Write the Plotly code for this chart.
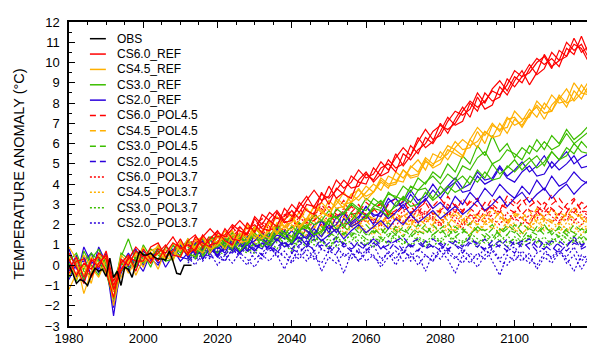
import plotly.graph_objects as go

# ---------------- data ----------------
OBS_YEARS = list(range(1980, 2014))
OBS = [0.0, -0.4, -0.9, -0.7, -0.8, -1.0, -0.5, -0.15, -0.3, -0.2, -0.55, 0.35, -0.6, -0.3,
       -1.0, -0.1, -0.2, -0.6, 0.1, 0.7, 0.5, 0.5, 0.6, 0.4, 0.3, 0.3, 0.25, 0.7, 0.2, -0.4,
       -0.45, 0.0, 0.0, 0.0]

REF_YEARS = list(range(1980, 2123, 2))   # reference runs, every second year
POL_YEARS = list(range(2012, 2123, 2))   # policy runs, every second year

# ---- CS6.0_REF
R60_A = [0.3,-0.5,0.1,-0.2,0.6,0.3,-1.2,-0.3,0.4,0.2, 0.2,0.9,1.1,0.4,0.7,1.3,0.6,0.8,1.5,1.0,
         1.1,1.8,1.3,1.2,2.1,1.6,2.5,2.2,1.9,2.8, 2.4,2.9,3.4,2.8,3.1,3.9,3.3,3.6,4.4,4.1,
         4.0,4.8,4.4,4.6,5.5,4.9,5.4,6.3,5.8,6.1, 7.0,6.5,7.2,7.8,7.3,8.3,7.7,7.9,8.8,8.4,
         9.1,9.6,8.9,9.5,10.4,9.8,10.1,11.0,10.6,10.9, 10.2,10.6]
R60_B = [-0.2,0.4,-0.6,0.3,-0.1,0.7,-0.8,0.1,0.5,-0.3, 0.8,0.3,0.6,1.0,0.5,0.4,1.2,1.5,0.9,1.3,
         1.7,1.2,1.0,1.9,1.5,2.3,1.8,1.7,2.6,2.1, 2.2,3.1,2.7,2.5,3.6,3.0,3.8,3.5,3.3,4.2,
         4.6,4.1,4.5,5.2,4.8,5.0,5.9,5.5,6.3,6.0, 6.6,7.3,6.9,7.1,8.0,7.6,8.5,8.1,8.3,9.2,
         8.8,9.3,9.9,9.4,9.7,10.5,10.1,10.3,11.2,10.5, 10.8,10.1]
R60_C = [0.6,-0.1,-0.9,0.2,0.4,-0.3,-1.6,0.3,0.0,0.7, 0.4,0.6,0.2,0.9,1.4,0.8,1.0,0.7,1.4,1.8,
         1.4,1.5,2.0,1.7,1.5,2.4,2.0,2.6,2.3,2.4, 3.0,2.6,3.2,3.7,3.2,3.4,4.2,3.8,4.1,4.7,
         4.3,4.5,5.1,4.7,5.3,5.8,5.4,6.1,6.7,6.2, 6.4,7.1,7.6,7.4,7.7,8.5,8.0,8.7,9.1,8.6,
         9.3,9.0,9.7,10.2,9.9,10.2,9.8,10.7,10.4,11.3, 10.4,9.9]
R60_D = [-0.4,0.2,0.3,-0.6,0.1,0.5,-1.0,-0.2,0.3,0.9, 0.5,0.1,0.8,0.6,1.1,0.9,0.5,1.4,1.1,0.9,
         1.6,1.4,1.8,2.2,1.8,2.0,1.6,2.3,2.7,2.2, 2.7,2.3,3.0,2.9,3.5,3.3,3.7,4.2,3.8,3.9,
         4.5,4.2,4.8,5.0,4.6,5.5,5.2,5.7,6.0,6.6, 6.9,6.7,7.0,7.6,8.1,7.8,8.1,8.6,8.4,8.9,
         9.6,9.3,9.5,10.0,10.3,9.7,10.6,10.3,10.9,10.7, 10.0,10.4]

# ---- CS4.5_REF
R45_A = [-0.5,0.2,-1.4,-0.3,0.1,0.4,-1.0,-0.6,0.2,0.5, -0.1,0.7,0.9,0.3,0.4,1.1,0.6,1.2,1.4,0.8,
         1.0,1.5,1.7,1.1,1.2,1.9,1.6,2.1,1.5,2.3, 2.5,1.8,2.2,2.9,2.7,2.4,3.3,3.0,3.1,3.8,
         3.2,3.6,4.2,3.9,4.0,4.7,4.3,4.4,5.2,4.8, 5.0,5.7,5.5,5.3,6.2,5.8,6.6,6.3,6.4,7.2,
         7.3,6.8,7.4,7.9,7.5,7.6,8.4,8.0,8.2,8.9, 8.4,8.8]
R45_B = [0.4,-0.7,0.0,-0.9,0.6,-0.2,-1.6,0.3,-0.4,0.2, 0.9,0.1,0.6,0.3,1.1,0.7,1.3,0.7,1.1,0.9,
         1.5,1.2,0.9,1.6,1.3,1.8,1.5,1.3,2.1,1.9, 2.4,1.9,2.3,2.9,2.6,2.4,3.2,2.8,3.5,3.7,
         3.4,3.6,4.1,3.8,4.6,4.3,4.8,5.2,4.7,5.5, 5.3,5.9,5.7,5.4,6.2,6.8,6.4,7.0,6.6,7.3,
         6.9,7.1,7.7,7.3,8.0,7.6,8.2,8.7,8.1,8.5, 9.1,8.6]
R45_C = [-1.2,-0.4,0.5,-0.1,-0.6,0.3,-2.0,-0.2,0.4,-0.5, 0.3,0.5,-0.2,0.8,0.2,1.2,0.5,0.9,1.4,0.6,
         1.2,0.8,1.5,1.2,1.9,1.3,1.7,2.2,1.6,1.9, 2.1,2.6,2.2,2.5,3.1,2.7,3.0,3.6,3.1,3.4,
         3.9,3.6,4.3,4.0,4.1,4.7,4.4,4.5,5.1,4.9, 5.6,5.2,5.8,6.2,5.9,6.1,6.6,6.3,7.0,6.5,
         7.2,6.9,7.5,7.8,7.2,7.9,8.3,7.8,8.6,8.2, 8.9,9.3]
R45_D = [0.9,0.3,-0.5,0.4,0.0,-0.4,-1.3,0.5,0.1,0.6, 0.2,0.4,1.0,0.5,0.7,0.4,1.1,0.9,0.6,1.3,
         1.1,1.7,1.2,1.4,2.0,1.5,1.3,1.8,2.4,1.9, 1.7,2.2,2.8,2.3,2.5,3.2,2.8,2.9,3.5,3.2,
         3.6,4.0,3.7,4.4,4.2,4.1,4.9,4.6,5.3,5.0, 5.2,5.5,6.1,5.7,5.8,6.6,6.0,6.9,6.7,6.8,
         7.6,7.2,7.3,8.1,7.7,8.4,8.0,8.1,9.0,8.5, 8.4,9.0]

# ---- CS3.0_REF
R30_A = [0.1,-0.8,0.7,0.0,-0.5,0.5,-1.1,0.4,1.3,0.2, 0.6,-0.1,0.9,0.4,0.7,1.1,0.5,1.0,1.3,0.7,
         1.2,0.9,1.4,1.5,1.0,1.6,1.2,1.0,1.7,1.4, 1.2,1.8,2.0,1.5,1.7,2.3,2.4,1.9,2.2,2.7,
         2.4,2.9,3.2,2.6,2.9,3.4,3.1,3.7,3.8,3.3, 3.9,3.5,4.1,4.4,4.0,4.7,4.3,5.0,4.5,4.8,
         5.2,4.7,5.1,5.4,4.9,5.6,5.2,5.8,5.5,6.1, 5.7,6.3]
R30_B = [-0.6,0.3,-0.2,0.6,0.2,-0.4,-1.7,-0.3,0.0,0.7, 0.3,0.8,0.5,0.2,1.0,0.6,1.3,0.8,0.6,1.2,
         1.5,1.1,0.8,1.5,1.3,1.9,1.4,1.2,1.9,1.6, 1.4,2.1,1.8,2.5,2.2,2.0,2.8,2.5,3.0,2.7,
         3.3,3.0,2.8,3.6,3.3,3.9,3.6,4.3,4.0,4.6, 4.3,5.0,4.6,5.4,5.0,5.9,5.4,6.4,5.6,6.0,
         5.3,5.8,5.5,6.2,5.7,6.4,6.0,6.7,6.2,6.5, 6.9,6.4]
R30_C = [0.5,0.0,-0.7,0.3,0.8,-0.1,-0.6,0.1,-0.2,0.4, 0.1,0.5,0.7,0.2,0.3,0.9,0.6,0.4,1.0,0.8,
         0.9,1.3,1.2,0.7,1.1,1.5,0.9,1.2,1.6,1.4, 1.1,1.7,1.9,1.5,1.6,2.2,1.8,2.0,2.6,2.2,
         2.3,2.8,2.7,2.4,3.1,3.3,2.9,3.0,3.6,3.2, 3.5,3.9,3.6,3.8,4.4,4.1,4.6,4.2,4.3,4.9,
         4.6,5.0,5.3,4.8,5.1,5.6,5.2,5.4,6.0,5.6, 5.5,5.9]
R30_D = [0.2,0.6,-0.3,-0.5,0.4,0.1,-1.3,0.6,0.3,-0.1, 1.0,0.4,0.3,0.9,0.6,0.5,1.2,0.9,0.7,1.4,
         1.0,1.1,1.6,1.3,1.2,1.8,1.5,1.4,2.0,1.5, 1.9,1.6,2.3,2.0,2.2,2.7,2.3,2.6,3.1,2.8,
         2.7,3.3,3.0,3.5,3.4,3.2,3.9,3.7,4.1,4.4, 4.0,4.5,4.2,4.9,4.7,5.3,5.6,5.0,5.2,5.7,
         5.5,5.2,5.9,5.6,6.1,5.7,5.9,6.5,6.0,6.3, 6.6,6.2]

# ---- CS2.0_REF
R20_A = [0.8,-0.2,0.4,-0.5,0.9,0.1,-2.5,0.0,0.6,-0.1, 0.5,0.2,0.9,0.4,0.6,1.0,0.4,0.9,0.6,1.3,
         0.8,1.1,0.7,1.4,1.0,1.2,1.6,1.1,1.5,1.3, 1.7,1.3,1.4,2.0,2.2,1.6,2.4,2.6,2.0,2.3,
         2.9,2.5,2.4,3.1,3.3,2.8,3.5,3.0,3.2,3.7, 3.3,3.8,4.1,3.6,3.7,4.4,4.0,4.2,4.8,4.3,
         4.1,4.6,4.9,4.4,4.5,5.1,4.7,5.0,5.4,4.8, 4.9,5.3]
R20_B = [-0.3,0.5,-0.8,0.2,-0.2,0.6,-1.3,0.3,-0.1,0.2, -0.3,0.6,0.1,0.4,0.8,0.2,0.6,1.1,0.3,0.8,
         0.5,0.9,1.2,0.6,1.0,0.7,1.1,0.8,1.3,0.9, 1.1,1.4,1.0,1.6,1.2,1.5,1.8,1.3,1.7,2.0,
         1.6,1.9,2.2,1.8,2.3,2.0,2.5,2.1,2.4,2.7, 2.3,2.6,2.9,2.5,2.8,3.2,2.7,3.0,3.4,2.9,
         3.3,3.6,3.1,3.5,3.8,3.3,3.7,4.0,3.5,3.9, 4.2,3.8]
R20_C = [0.2,-0.6,0.9,0.1,0.3,-0.2,-1.9,-0.4,0.3,0.8, 0.0,0.4,0.7,-0.1,0.5,0.9,1.2,0.5,0.8,1.0,
         0.4,1.3,0.9,0.6,1.4,1.0,0.8,1.5,1.2,1.7, 1.0,1.6,1.3,1.8,1.4,2.0,1.6,2.3,1.9,2.1,
         2.5,2.0,2.7,2.3,2.6,3.0,2.5,2.9,3.3,2.8, 3.1,2.7,3.4,3.0,3.6,3.2,3.8,3.4,4.0,3.6,
         3.3,3.9,3.5,4.2,3.7,4.4,3.9,4.1,4.6,4.2, 4.0,4.5]
R20_D = [-0.7,0.1,0.2,0.6,-0.4,0.4,-2.1,0.2,-0.3,0.4, 0.7,0.3,0.0,0.6,1.0,0.4,0.3,0.9,1.2,0.6,
         0.9,0.6,1.3,1.1,0.7,1.5,1.3,1.0,1.8,1.4, 1.2,1.9,1.7,1.4,2.2,1.8,2.0,2.6,2.1,2.4,
         2.9,2.4,2.6,3.3,2.9,3.1,3.7,3.2,3.4,4.0, 3.5,3.9,4.3,3.8,4.0,4.6,4.2,4.3,4.9,4.4,
         4.7,5.1,4.6,4.9,5.4,4.8,5.2,5.6,5.0,5.3, 5.5,5.0]

# ---- POL4.5 runs
P45_60_A = [1.2,0.6,0.9,1.5,1.1,1.3,1.9,1.4,1.6,2.2, 1.8,2.0,2.6,2.1,2.3,2.9,2.2,2.5,2.8,2.4,
            2.7,3.2,2.5,2.6,3.1,2.8,2.4,3.0,3.3,2.7, 2.9,2.5,3.2,2.8,2.6,3.4,2.9,2.7,3.1,3.3,
            2.6,3.0,2.7,3.4,3.1,2.5,2.9,3.2,2.8,3.5, 2.9,2.6,3.2,2.7,3.0,2.8]
P45_60_B = [0.7,1.1,1.3,0.8,1.5,1.2,1.4,1.8,1.3,1.9, 2.3,1.7,2.0,2.5,2.2,2.6,2.1,2.4,3.0,2.5,
            2.3,2.8,2.6,3.0,2.4,2.7,3.1,2.6,2.5,2.9, 3.2,2.7,2.5,2.9,3.3,2.8,3.0,2.6,3.2,2.9,
            2.7,3.3,3.0,2.8,2.6,3.1,3.4,2.9,2.6,3.0, 3.3,2.8,2.6,3.1,2.9,3.2]
P45_60_C = [1.0,1.3,0.8,1.2,1.7,1.1,1.5,1.3,2.0,1.7, 1.9,2.2,1.8,2.4,2.7,2.0,2.3,2.2,2.6,2.9,
            2.5,2.4,2.9,2.6,2.3,2.8,3.0,2.5,2.7,3.2, 2.6,2.8,3.1,2.5,2.7,3.0,2.6,3.3,2.8,2.5,
            3.1,2.8,2.6,3.2,2.9,3.3,2.7,2.6,3.1,2.8, 2.5,3.0,3.3,2.7,2.6,3.1]
P45_45_A = [0.6,1.0,0.7,1.3,0.9,1.2,0.9,1.5,1.1,1.7, 1.3,1.1,1.8,1.5,2.0,1.6,1.9,2.2,1.7,2.3,
            1.9,2.1,2.5,2.0,2.2,1.8,2.4,2.1,2.6,2.2, 1.9,2.5,2.3,2.0,2.6,2.2,2.7,2.3,2.0,2.5,
            2.1,2.8,2.4,2.1,2.6,2.3,2.0,2.5,2.2,2.8, 2.4,2.1,2.6,2.3,2.0,2.5]
P45_45_B = [1.1,0.7,1.2,0.8,1.0,1.4,1.1,1.3,1.0,1.6, 1.4,1.8,1.3,1.6,1.9,2.1,1.7,1.9,2.4,2.0,
            1.7,2.3,2.0,2.6,2.1,2.4,2.0,2.7,2.2,2.5, 2.1,2.3,2.0,2.6,2.3,2.0,2.5,2.2,2.7,2.3,
            2.5,2.1,2.7,2.2,2.4,2.6,2.2,2.8,2.3,2.1, 2.6,2.4,2.9,2.3,2.5,2.2]
P45_45_C = [0.9,1.3,1.0,0.8,1.4,1.2,1.7,1.3,1.5,1.9, 1.5,1.7,2.0,1.6,2.3,1.9,2.1,1.8,2.4,2.2,
            2.0,2.4,2.1,1.8,2.5,2.3,2.0,2.6,2.2,2.4, 2.7,2.1,2.4,2.2,2.8,2.4,2.1,2.5,2.3,2.0,
            2.4,2.2,2.6,2.0,2.5,2.3,2.7,2.1,2.4,2.2, 2.0,2.6,2.3,2.5,2.1,2.4]
P45_30_A = [0.7,0.3,0.9,0.5,1.1,0.8,1.2,0.9,1.4,1.0, 1.3,1.6,1.1,1.5,1.2,1.7,1.3,1.6,1.9,1.4,
            1.8,1.5,2.0,1.6,1.3,1.8,1.5,2.1,1.7,1.4, 1.9,1.6,2.0,1.5,1.8,1.4,1.9,1.6,2.1,1.7,
            1.4,1.8,1.5,2.0,1.7,1.3,1.8,1.6,2.0,1.5, 1.9,1.7,1.4,1.8,1.6,2.0]
P45_30_B = [0.3,0.8,0.5,0.9,0.6,1.0,0.7,1.2,0.8,1.1, 1.4,0.9,1.3,1.6,1.2,1.4,1.7,1.2,1.5,1.8,
            1.3,1.6,1.4,1.9,1.5,1.7,1.3,1.8,1.5,1.9, 1.4,1.7,1.5,2.0,1.6,1.8,1.4,1.7,1.5,1.9,
            1.6,1.3,1.8,1.5,2.0,1.6,1.4,1.9,1.5,1.7, 1.4,1.8,1.6,1.3,1.9,1.5]
P45_30_C = [0.9,0.6,0.8,1.2,0.9,1.1,1.4,1.0,1.2,1.6, 1.2,1.5,1.3,1.8,1.4,1.2,1.7,1.5,1.9,1.6,
            1.4,1.9,1.6,1.5,2.0,1.6,1.8,1.4,1.9,1.7, 1.5,2.0,1.7,1.5,1.8,2.1,1.6,1.8,1.4,1.9,
            1.7,2.0,1.5,1.8,1.6,2.1,1.7,1.5,1.9,1.6, 1.8,1.5,2.0,1.7,1.6,1.9]
P45_20_A = [0.5,0.8,0.3,0.9,0.6,0.8,1.1,0.6,1.0,0.7, 1.2,0.9,0.6,1.1,0.8,1.2,0.9,1.3,0.8,1.1,
            1.4,1.0,0.7,1.2,0.9,1.3,1.0,0.7,1.2,1.4, 0.9,1.1,0.8,1.3,1.0,0.7,1.2,0.9,1.4,1.0,
            0.8,1.2,0.9,1.3,1.0,1.2,0.8,1.3,1.0,0.7, 1.2,0.9,1.4,1.0,1.2,0.8]
P45_20_B = [0.2,0.6,0.9,0.4,0.7,0.5,0.9,0.6,1.1,0.8, 0.5,1.0,0.7,1.2,0.8,0.6,1.0,0.8,1.3,0.9,
            0.6,1.1,0.8,1.0,0.7,1.1,0.8,1.2,0.9,0.6, 1.0,0.7,1.2,0.9,1.1,0.8,1.0,0.6,1.1,0.9,
            1.3,0.8,1.0,0.7,1.2,0.9,1.1,0.7,1.2,0.9, 0.6,1.0,1.3,0.8,1.0,0.7]
P45_20_C = [0.8,0.5,0.7,1.0,0.4,0.8,0.6,1.0,0.7,0.9, 1.1,0.7,0.9,1.2,0.6,1.0,1.2,0.7,1.0,0.8,
            1.2,0.9,1.1,0.6,1.0,1.3,0.8,1.0,1.2,0.7, 1.1,1.3,0.8,1.0,0.7,1.2,1.0,0.8,1.2,1.1,
            0.7,1.0,1.2,0.9,0.6,1.1,1.3,0.9,0.8,1.2, 1.0,0.7,1.1,0.9,1.3,1.0]

# ---- POL3.7 runs
P37_60_A = [0.9,1.2,0.7,1.3,1.0,1.5,1.2,1.7,1.3,1.9, 1.6,1.4,2.0,1.7,2.2,1.9,1.6,2.3,2.0,2.5,
            2.1,1.8,2.4,2.1,2.6,2.2,1.9,2.5,2.2,2.7, 2.3,2.0,2.6,2.2,1.9,2.5,2.8,2.3,2.0,2.6,
            2.3,2.9,2.4,2.1,2.7,2.3,2.0,2.6,2.4,2.8, 2.2,2.5,2.1,2.7,2.4,2.2]
P37_60_B = [1.3,0.9,1.1,0.8,1.4,1.1,1.6,1.9,1.4,1.7, 2.1,1.5,1.8,2.2,1.8,2.4,2.0,2.6,2.1,1.8,
            2.3,2.7,2.2,2.0,2.4,2.1,2.7,2.3,1.9,2.5, 2.2,2.8,2.1,2.4,2.0,2.6,2.2,1.8,2.5,2.1,
            2.7,2.3,2.0,2.6,2.2,2.4,2.0,2.7,2.3,2.1, 2.5,2.2,2.8,2.3,2.5,2.0]
P37_60_C = [0.6,1.0,1.2,0.9,1.1,1.4,1.0,1.3,1.6,1.2, 1.5,1.9,1.6,1.8,2.3,1.7,2.0,2.4,1.9,2.1,
            2.5,2.0,2.2,2.6,2.1,2.3,2.0,2.6,2.4,2.1, 2.5,2.2,2.7,2.3,2.1,2.6,2.4,2.0,2.5,2.3,
            2.1,2.5,2.7,2.2,2.4,2.0,2.5,2.3,2.8,2.4, 2.1,2.6,2.3,2.0,2.5,2.4]
P37_45_A = [0.8,0.4,1.0,0.6,1.2,0.9,1.3,1.0,1.4,1.1, 1.6,1.2,1.5,1.8,1.4,1.7,1.5,1.9,1.6,2.0,
            1.7,1.5,2.1,1.8,1.6,2.0,1.7,2.2,1.8,1.5, 2.1,1.8,2.3,1.9,1.6,2.0,1.7,2.2,1.9,1.6,
            2.1,1.8,2.3,1.9,1.7,2.0,1.8,2.2,1.7,2.1, 1.9,1.6,2.2,1.8,2.0,1.7]
P37_45_B = [0.5,0.9,0.6,1.0,0.8,1.2,0.8,1.1,1.4,1.0, 1.3,1.7,1.2,1.5,1.3,1.8,1.4,1.6,2.0,1.5,
            1.8,1.4,1.9,2.1,1.6,1.9,1.5,2.0,1.7,2.2, 1.8,1.5,1.9,1.7,2.1,1.6,2.0,1.8,1.5,2.1,
            1.7,1.9,1.6,2.2,1.8,1.5,2.0,1.7,2.2,1.8, 1.6,2.1,1.9,1.5,2.0,1.8]
P37_45_C = [0.9,0.7,1.1,1.3,0.8,1.0,1.4,1.1,1.2,1.6, 1.2,1.4,1.9,1.6,1.3,1.7,2.0,1.6,1.4,1.9,
            2.0,1.6,1.8,2.2,1.7,1.5,2.1,1.9,1.6,2.0, 2.2,1.7,1.6,2.0,2.3,1.8,1.7,2.1,1.9,1.6,
            2.0,2.2,1.7,1.9,2.1,1.6,1.8,2.3,1.9,1.7, 2.1,1.8,1.6,2.0,2.2,1.7]
P37_30_A = [0.6,0.9,0.4,0.8,0.5,0.9,1.1,0.7,1.2,0.9, 1.3,1.0,1.4,1.1,0.8,1.3,1.0,1.5,1.2,0.9,
            1.4,1.1,1.6,1.2,1.0,1.4,1.1,1.6,1.3,1.0, 1.5,1.2,0.9,1.4,1.1,1.5,1.2,1.0,1.6,1.3,
            1.1,1.5,1.2,0.9,1.4,1.2,1.5,1.1,1.4,1.0, 1.6,1.3,1.1,1.5,1.2,0.9]
P37_30_B = [0.2,0.6,0.4,0.9,0.7,0.5,1.0,0.8,0.6,1.1, 0.9,1.2,0.8,1.3,1.0,1.2,0.9,1.4,1.1,1.3,
            0.9,1.2,1.5,1.0,1.3,1.1,1.4,1.0,1.5,1.2, 0.9,1.3,1.1,1.5,1.2,1.0,1.4,1.1,1.3,0.9,
            1.4,1.2,1.5,1.1,1.3,1.0,1.4,1.2,0.9,1.3, 1.1,1.5,1.2,1.0,1.4,1.1]
P37_30_C = [0.8,0.5,0.7,1.0,0.6,0.9,0.7,1.1,0.8,0.6, 1.1,0.9,1.3,1.0,0.7,1.2,1.4,1.0,1.2,0.8,
            1.3,1.0,1.2,1.5,1.1,0.9,1.3,1.1,1.6,1.2, 1.0,1.4,1.2,0.9,1.3,1.5,1.0,1.2,1.4,1.1,
            1.3,0.9,1.2,1.5,1.0,1.3,1.1,1.4,1.0,1.2, 1.4,1.0,1.3,1.1,1.5,1.2]
P37_20_A = [0.4,0.0,0.7,0.3,0.6,0.2,0.8,0.4,0.0,0.7, 0.3,0.9,0.5,-0.2,0.6,0.3,0.8,0.4,0.1,0.7,
            0.5,-0.4,0.6,0.2,0.8,0.4,0.1,0.7,0.3,0.9, 0.2,0.5,-0.3,0.6,0.3,0.8,0.4,0.1,0.6,0.3,
            0.9,0.2,-0.5,0.5,0.2,0.7,0.3,0.0,0.6,0.4, 0.8,0.1,0.5,-0.2,0.4,0.7]
P37_20_B = [0.1,0.5,0.2,0.6,0.0,0.5,0.1,0.6,0.3,-0.1, 0.5,0.2,0.7,0.4,0.1,0.6,0.2,0.7,-0.3,0.4,
            0.1,0.6,0.3,0.8,0.2,0.5,-0.1,0.4,0.7,0.2, 0.6,0.0,0.5,0.2,0.7,0.3,-0.4,0.5,0.1,0.6,
            0.3,0.7,0.2,0.0,0.5,0.2,0.6,-0.2,0.4,0.1, 0.6,0.3,-0.3,0.5,0.2,0.6]
P37_20_C = [0.7,0.3,0.5,0.9,0.4,0.2,0.8,0.5,0.9,0.3, 0.6,1.0,0.4,0.7,0.2,0.9,0.5,0.3,0.8,0.6,
            1.0,0.4,0.7,0.2,0.6,1.0,0.3,0.6,0.0,0.7, 0.4,0.8,0.5,0.2,0.9,0.6,0.3,0.8,0.4,-0.1,
            0.5,0.8,0.3,0.7,0.9,0.4,0.1,0.6,0.8,0.3, 0.7,0.4,0.9,0.2,0.6,0.5]

# ---------------- styling ----------------
RED, ORANGE, GREEN, BLUE = "#FF0000", "#FFB000", "#3CBE00", "#2A00DC"
DASH, DOT = "6px,4px", "2px,2px"
FONT = "Liberation Sans, Arial, Helvetica, sans-serif"

# (legend name, colour, dash, years, members, legend position) in drawing order
GROUPS = [
    ("CS2.0_POL3.7", BLUE, DOT, POL_YEARS, [P37_20_A, P37_20_B, P37_20_C], 12),
    ("CS3.0_POL3.7", GREEN, DOT, POL_YEARS, [P37_30_A, P37_30_B, P37_30_C], 11),
    ("CS4.5_POL3.7", ORANGE, DOT, POL_YEARS, [P37_45_A, P37_45_B, P37_45_C], 10),
    ("CS6.0_POL3.7", RED, DOT, POL_YEARS, [P37_60_A, P37_60_B, P37_60_C], 9),
    ("CS2.0_POL4.5", BLUE, DASH, POL_YEARS, [P45_20_A, P45_20_B, P45_20_C], 8),
    ("CS3.0_POL4.5", GREEN, DASH, POL_YEARS, [P45_30_A, P45_30_B, P45_30_C], 7),
    ("CS4.5_POL4.5", ORANGE, DASH, POL_YEARS, [P45_45_A, P45_45_B, P45_45_C], 6),
    ("CS6.0_POL4.5", RED, DASH, POL_YEARS, [P45_60_A, P45_60_B, P45_60_C], 5),
    ("CS2.0_REF", BLUE, "solid", REF_YEARS, [R20_A, R20_B, R20_C, R20_D], 4),
    ("CS3.0_REF", GREEN, "solid", REF_YEARS, [R30_A, R30_B, R30_C, R30_D], 3),
    ("CS4.5_REF", ORANGE, "solid", REF_YEARS, [R45_A, R45_B, R45_C, R45_D], 2),
    ("CS6.0_REF", RED, "solid", REF_YEARS, [R60_A, R60_B, R60_C, R60_D], 1),
]

fig = go.Figure()
for name, color, dash, years, members, pos in GROUPS:
    for vals in members:
        fig.add_trace(go.Scatter(
            x=years[:len(vals)], y=vals, mode="lines", name=name, showlegend=False,
            line=dict(color=color, width=1.2, dash=dash),
        ))
fig.add_trace(go.Scatter(x=OBS_YEARS, y=OBS, mode="lines", name="OBS", showlegend=False,
                         line=dict(color="black", width=1.5)))

# ---- compact key drawn in the upper-left corner of the plot area
PLOT_L, PLOT_R, PLOT_T, PLOT_B = 61, 594, 14, 318
def px_x(px):
    return (px - PLOT_L) / (PLOT_R - PLOT_L)
def px_y(py):
    return (PLOT_B - py) / (PLOT_B - PLOT_T)

legend_items = [("OBS", "black", "solid", 0)] + [(g[0], g[1], g[2], g[5]) for g in GROUPS]
legend_items.sort(key=lambda it: it[3])
for name, color, dash, pos in legend_items:
    yy = px_y(30.7 + 15.36 * pos)
    fig.add_shape(type="line", xref="paper", yref="paper",
                  x0=px_x(82), x1=px_x(98), y0=yy, y1=yy,
                  line=dict(color=color, width=1.5, dash=dash))
    fig.add_annotation(xref="paper", yref="paper", x=px_x(107), y=yy, text=name,
                       showarrow=False, xanchor="left", yanchor="middle",
                       font=dict(family=FONT, size=12, color="black"))

axis_common = dict(showline=True, linecolor="black", linewidth=1.5, mirror="ticks",
                   ticks="inside", ticklen=6, tickcolor="black", tickwidth=1,
                   showgrid=False, zeroline=False,
                   tickfont=dict(family=FONT, size=13, color="black"))

fig.update_layout(
    width=595, height=345,
    margin=dict(l=61, r=1, t=14, b=27),
    paper_bgcolor="white", plot_bgcolor="white",
    font=dict(family=FONT, color="black"),
    showlegend=False,
    xaxis=dict(range=[1980, 2123], tick0=1980, dtick=20,
               minor=dict(dtick=5, ticks="inside", ticklen=3, tickcolor="black"),
               **axis_common),
    yaxis=dict(range=[-3, 12], tick0=-3, dtick=1, ticklabelstandoff=5,
               minor=dict(dtick=0.5, ticks="inside", ticklen=3, tickcolor="black"),
               title=dict(text="TEMPERATURE ANOMALY (°C)", standoff=17,
                          font=dict(family=FONT, size=14.5, color="black")),
               **axis_common),
)

fig.write_html("out.html")
